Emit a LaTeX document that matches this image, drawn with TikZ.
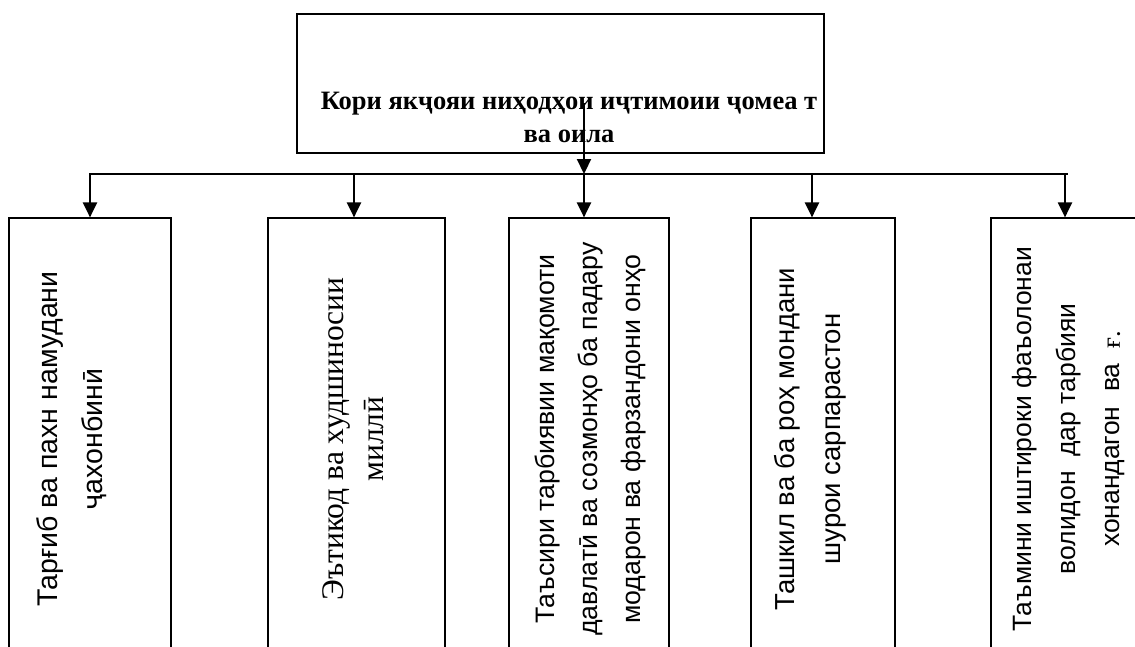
\documentclass[tikz,border=0pt]{standalone}
\usepackage{fontspec}
\setmainfont{Liberation Serif}
\setsansfont{Liberation Sans}
\usetikzlibrary{arrows.meta}
\usetikzlibrary{positioning}
\usetikzlibrary{calc}

\tikzset{
    topbox/.style={draw,line width=1.6pt,inner sep=0pt,minimum width=527pt,minimum height=139pt},
    leaf/.style={draw,line width=1.2pt,inner sep=0pt,minimum height=442pt},
    leaftext/.style={rotate=90,align=center,inner sep=0pt,font=\sffamily\fontsize{26.5}{44}\selectfont},
    bus/.style={line width=1.6pt},
    link/.style={line width=2.2pt,-{Triangle[width=14pt,length=15pt]}},
}

\begin{document}
\begin{tikzpicture}[x=1pt,y=-1pt]
    \clip (0,0) rectangle (1135,646);
    \fill[white] (0,0) rectangle (1135,646);
    % top box
    \node[topbox] (top) at (560.5,83.5) {};
    \node[align=center,font=\bfseries\fontsize{26.5}{33}\selectfont] (toptext) at (569,117)
        {Кори якҷояи ниҳодҳои иҷтимоии ҷомеа т\\ва оила};
    % five boxes
    \node[leaf,minimum width=162pt] (b1) at (90,439) {};
    \node[leaf,minimum width=177pt] (b2) at (356.5,439) {};
    \node[leaf,minimum width=160pt] (b3) at (589,439) {};
    \node[leaf,minimum width=144pt] (b4) at (823,439) {};
    \node[leaf,minimum width=156pt] (b5) at (1069,439) {};
    \node[leaftext,font=\sffamily\fontsize{28.5}{45}\selectfont] (t1) at ([xshift=-18pt]b1.center)
        {Тарғиб ва пахн намудани\\ҷахонбинӣ};
    \node[leaftext,font=\rmfamily\fontsize{31.5}{40}\selectfont] (t2) at ([xshift=-3pt]b2.center)
        {Эътикод ва худшиносии\\миллӣ};
    \node[leaftext,font=\sffamily\fontsize{26.7}{43}\selectfont] (t3) at ([xshift=1pt]b3.center)
        {Таъсири тарбиявии мақомоти\\давлатӣ ва созмонҳо ба падару\\модарон ва фарзандони онҳо};
    \node[leaftext,font=\sffamily\fontsize{27.5}{46}\selectfont] (t4) at ([xshift=-13pt]b4.center)
        {Ташкил ва ба роҳ мондани\\шурои сарпарастон};
    \node[leaftext] (t5) at (b5.center)
        {Таъмини иштироки фаъолонаи\\волидон\ \ дар тарбияи\\хонандагон\ \ ва\ \ {\rmfamily ғ.}};
    % bus and arrows
    \coordinate (src) at (584,103);
    \coordinate (j1) at (90,174);
    \coordinate (j2) at (354,174);
    \coordinate (j3) at (584,174);
    \coordinate (j4) at (812,174);
    \coordinate (j5) at (1065,174);
    \coordinate (jend) at (1068,174);
    \draw[bus] ([xshift=-0.8pt]j1) -- (jend);
    \draw[link] (src) -- (j3);
    \foreach \i in {1,...,5}
        \draw[link] (j\i) -- (j\i |- b\i.north);
\end{tikzpicture}
\end{document}
